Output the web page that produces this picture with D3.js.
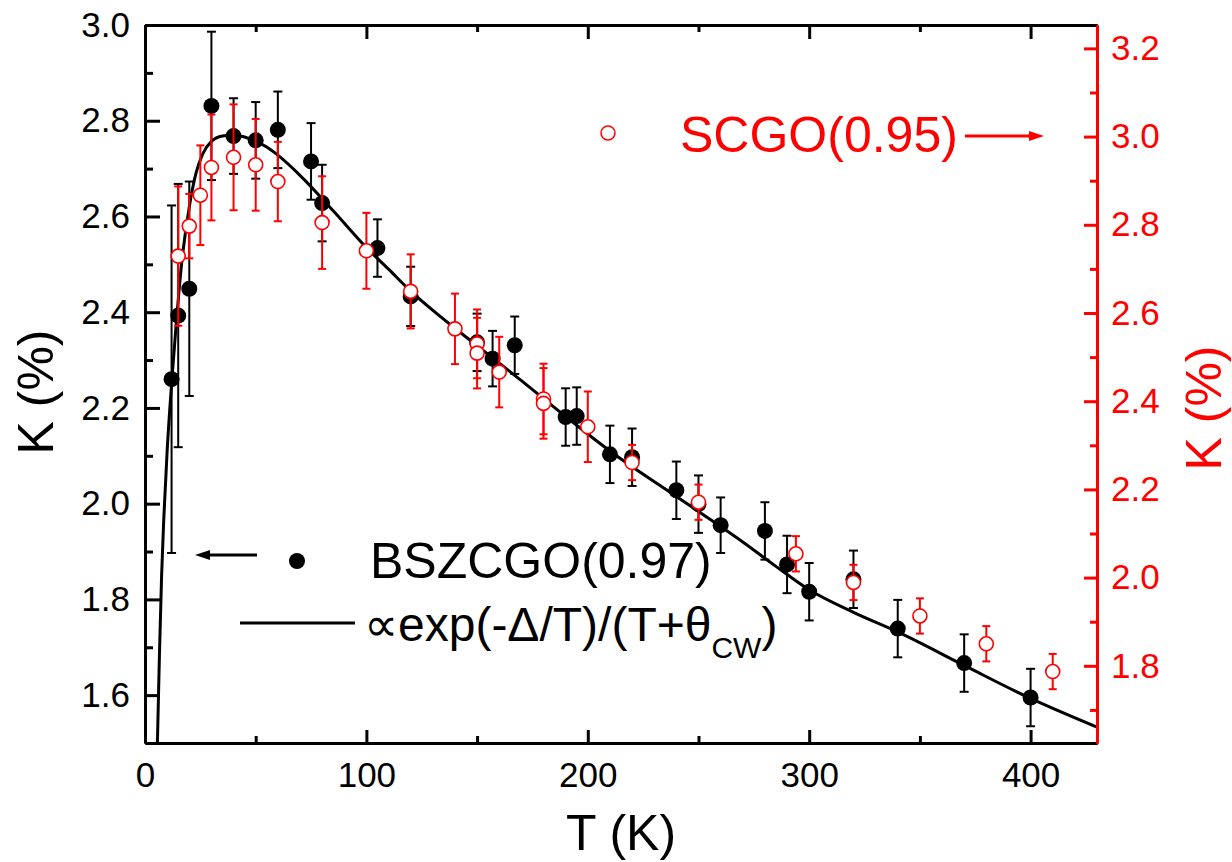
<!DOCTYPE html>
<html><head><meta charset="utf-8">
<script src="https://cdn.jsdelivr.net/npm/d3@7"></script>
<style>body{margin:0;background:#fff}svg{display:block}text{font-family:"Liberation Sans",Arial,sans-serif}</style>
</head><body>
<script>
// ---- data ----
const blackT   = [12, 15, 20, 30, 40, 50, 60, 75, 80, 105, 120, 150, 157, 167, 190, 195, 210, 220, 240, 250, 260, 280, 290, 300, 320, 340, 370, 400];
const blackK   = [2.26, 2.393, 2.449, 2.831, 2.768, 2.759, 2.781, 2.715, 2.628, 2.534, 2.433, 2.337, 2.303, 2.331, 2.181, 2.183, 2.103, 2.097, 2.028, 1.999, 1.955, 1.943, 1.873, 1.816, 1.842, 1.739, 1.667, 1.595];
const blackErr = [0.363, 0.275, 0.224, 0.155, 0.079, 0.08, 0.08, 0.08, 0.08, 0.06, 0.062, 0.06, 0.058, 0.06, 0.06, 0.06, 0.06, 0.06, 0.06, 0.06, 0.058, 0.06, 0.06, 0.06, 0.06, 0.06, 0.06, 0.06];

const redT   = [15, 20, 25, 30, 40, 50, 60, 80, 100, 120, 140, 150, 150, 160, 180, 180, 200, 220, 250, 294, 320, 350, 380, 410];
const redK   = [2.729, 2.797, 2.867, 2.930, 2.953, 2.936, 2.898, 2.805, 2.741, 2.649, 2.564, 2.530, 2.509, 2.466, 2.405, 2.395, 2.342, 2.261, 2.171, 2.054, 1.989, 1.913, 1.850, 1.787];
const redErr = [0.158, 0.073, 0.113, 0.12, 0.12, 0.104, 0.09, 0.105, 0.086, 0.084, 0.08, 0.078, 0.08, 0.08, 0.08, 0.08, 0.08, 0.04, 0.04, 0.04, 0.04, 0.04, 0.04, 0.04];

const fitT = [5.6, 6.5, 7.5, 8.5, 10, 12, 14, 16.5, 20, 23, 26, 30, 35, 40, 45, 50, 55, 60, 70, 85, 100, 110, 120, 135, 150, 170, 190, 210, 240, 255, 270, 285, 300, 320, 340, 370, 400, 430];
const fitK = [1.50, 1.68, 1.85, 1.97, 2.11, 2.25, 2.37, 2.50, 2.62, 2.69, 2.730, 2.757, 2.768, 2.770, 2.766, 2.757, 2.745, 2.728, 2.686, 2.612, 2.535, 2.49, 2.444, 2.385, 2.330, 2.257, 2.182, 2.110, 2.015, 1.968, 1.920, 1.869, 1.820, 1.773, 1.732, 1.662, 1.593, 1.533];

const xTicks = [0, 100, 200, 300, 400];
const xMinor = [50, 150, 250, 350];
const yLTicks = [1.6, 1.8, 2.0, 2.2, 2.4, 2.6, 2.8, 3.0];
const yLMinor = [1.7, 1.9, 2.1, 2.3, 2.5, 2.7, 2.9];
const yRTicks = [1.8, 2.0, 2.2, 2.4, 2.6, 2.8, 3.0, 3.2];
const yRMinor = [1.7, 1.9, 2.1, 2.3, 2.5, 2.7, 2.9, 3.1];

// ---- layout ----
const W = 1232, H = 862;
const L = 145, R = 1097, T = 25, B = 743;
const RED = "#ff0000";

const svg = d3.select("body").append("svg").attr("width", W).attr("height", H);

const x = d3.scaleLinear([0, 430], [L, R]);
const yL = d3.scaleLinear([1.5, 3.0], [B, T]);
const yR = d3.scaleLinear([1.625, 3.253], [B, T]);

svg.append("defs").append("clipPath").attr("id", "clip")
  .append("rect").attr("x", L).attr("y", T).attr("width", R - L).attr("height", B - T);

const plot = svg.append("g").attr("clip-path", "url(#clip)");

// fit curve
const line = d3.line().x(d => x(d[0])).y(d => yL(d[1])).curve(d3.curveMonotoneX);
plot.append("path").datum(fitT.map((t, i) => [t, fitK[i]]))
  .attr("d", line).attr("fill", "none").attr("stroke", "#000").attr("stroke-width", 3);

// black error bars + points
const bData = blackT.map((t, i) => ({t, k: blackK[i], e: blackErr[i]}));
const bErr = plot.append("g").attr("stroke", "#000").attr("stroke-width", 2);
bData.forEach(d => {
  const cx = x(d.t), y1 = yL(d.k + d.e), y2 = yL(d.k - d.e);
  bErr.append("line").attr("x1", cx).attr("x2", cx).attr("y1", y1).attr("y2", y2);
  bErr.append("line").attr("x1", cx - 4.5).attr("x2", cx + 4.5).attr("y1", y1).attr("y2", y1);
  bErr.append("line").attr("x1", cx - 4.5).attr("x2", cx + 4.5).attr("y1", y2).attr("y2", y2);
});
plot.append("g").selectAll("circle").data(bData).join("circle")
  .attr("cx", d => x(d.t)).attr("cy", d => yL(d.k)).attr("r", 8).attr("fill", "#000");

// red error bars + points
const rData = redT.map((t, i) => ({t, k: redK[i], e: redErr[i]}));
const rErr = plot.append("g").attr("stroke", RED).attr("stroke-width", 2);
rData.forEach(d => {
  const cx = x(d.t), y1 = yR(d.k + d.e), y2 = yR(d.k - d.e);
  rErr.append("line").attr("x1", cx).attr("x2", cx).attr("y1", y1).attr("y2", y2);
  rErr.append("line").attr("x1", cx - 4).attr("x2", cx + 4).attr("y1", y1).attr("y2", y1);
  rErr.append("line").attr("x1", cx - 4).attr("x2", cx + 4).attr("y1", y2).attr("y2", y2);
});
plot.append("g").selectAll("circle").data(rData).join("circle")
  .attr("cx", d => x(d.t)).attr("cy", d => yR(d.k)).attr("r", 7)
  .attr("fill", "#fff").attr("stroke", RED).attr("stroke-width", 1.6);

// ---- axes ----
function styleAxis(g, color, fontSize) {
  g.select(".domain").attr("stroke", color).attr("stroke-width", 3);
  g.selectAll(".tick line").attr("stroke", color).attr("stroke-width", 3);
  g.selectAll(".tick text").attr("fill", color).style("font-size", fontSize + "px")
    .style("font-family", '"Liberation Sans", Arial, sans-serif');
}
const fmt = d3.format(".1f");

// bottom
const gB = svg.append("g").attr("transform", `translate(0,${B})`)
  .call(d3.axisBottom(x).tickValues(xTicks).tickSize(-13).tickSizeOuter(0).tickPadding(19).tickFormat(d3.format("d")));
styleAxis(gB, "#000", 35);
const gBm = svg.append("g").attr("transform", `translate(0,${B})`)
  .call(d3.axisBottom(x).tickValues(xMinor).tickSize(-7).tickSizeOuter(0).tickFormat(""));
styleAxis(gBm, "#000", 35);

// top
const gT = svg.append("g").attr("transform", `translate(0,${T})`)
  .call(d3.axisTop(x).tickValues(xTicks).tickSize(-14).tickSizeOuter(0).tickFormat(""));
styleAxis(gT, "#000", 35);
const gTm = svg.append("g").attr("transform", `translate(0,${T})`)
  .call(d3.axisTop(x).tickValues(xMinor).tickSize(-7).tickSizeOuter(0).tickFormat(""));
styleAxis(gTm, "#000", 35);

// left
const gL = svg.append("g").attr("transform", `translate(${L},0)`)
  .call(d3.axisLeft(yL).tickValues(yLTicks).tickSize(-15).tickSizeOuter(0).tickPadding(15).tickFormat(fmt));
styleAxis(gL, "#000", 35);
const gLm = svg.append("g").attr("transform", `translate(${L},0)`)
  .call(d3.axisLeft(yL).tickValues(yLMinor).tickSize(-8).tickSizeOuter(0).tickFormat(""));
styleAxis(gLm, "#000", 35);

// right (red)
const gR = svg.append("g").attr("transform", `translate(${R},0)`)
  .call(d3.axisRight(yR).tickValues(yRTicks).tickSize(-13).tickSizeOuter(0).tickPadding(14).tickFormat(fmt));
styleAxis(gR, RED, 35);
const gRm = svg.append("g").attr("transform", `translate(${R},0)`)
  .call(d3.axisRight(yR).tickValues(yRMinor).tickSize(-7).tickSizeOuter(0).tickFormat(""));
styleAxis(gRm, RED, 35);

// axis titles
svg.append("text").attr("x", (L + R) / 2).attr("y", 850).attr("text-anchor", "middle")
  .style("font-size", "50px").text("T (K)");
svg.append("text").attr("transform", "translate(53,392) rotate(-90)").attr("text-anchor", "middle")
  .style("font-size", "50px").text("K (%)");
svg.append("text").attr("transform", "translate(1221,408) rotate(-90)").attr("text-anchor", "middle")
  .attr("fill", RED).style("font-size", "50px").text("K (%)");

// ---- legend / annotations ----
// BSZCGO
svg.append("circle").attr("cx", 297).attr("cy", 561).attr("r", 8).attr("fill", "#000");
svg.append("line").attr("x1", 257).attr("x2", 206).attr("y1", 555).attr("y2", 555).attr("stroke", "#000").attr("stroke-width", 3);
svg.append("polygon").attr("points", "195,555 210,550 210,560").attr("fill", "#000");
svg.append("text").attr("x", 370).attr("y", 578).style("font-size", "50px").text("BSZCGO(0.97)");

// fit legend
svg.append("line").attr("x1", 240).attr("x2", 355).attr("y1", 623).attr("y2", 623).attr("stroke", "#000").attr("stroke-width", 3);
const ft = svg.append("text").attr("x", 364).attr("y", 641).style("font-size", "48px");
ft.append("tspan").text("\u221Dexp(-\u0394/T)/(T+\u03B8");
ft.append("tspan").attr("dy", 17).style("font-size", "30px").text("CW");
ft.append("tspan").attr("dy", -17).text(")");

// SCGO
svg.append("circle").attr("cx", 608).attr("cy", 133).attr("r", 7).attr("fill", "none").attr("stroke", RED).attr("stroke-width", 1.5);
svg.append("text").attr("x", 680).attr("y", 152).attr("fill", RED).style("font-size", "50px").text("SCGO(0.95)");
svg.append("line").attr("x1", 965).attr("x2", 1032).attr("y1", 136).attr("y2", 136).attr("stroke", RED).attr("stroke-width", 3);
svg.append("polygon").attr("points", "1044,136 1029,131 1029,141").attr("fill", RED);
</script>
</body></html>
